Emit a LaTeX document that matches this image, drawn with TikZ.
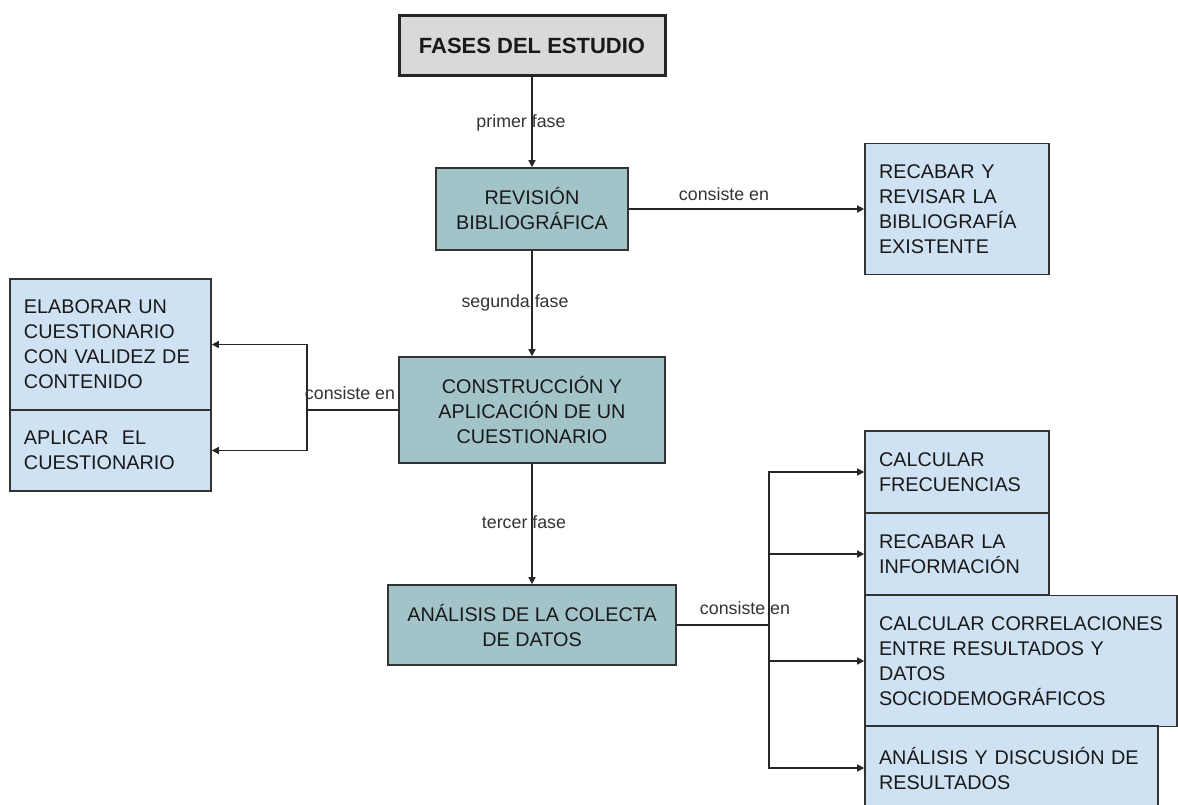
\documentclass[tikz,border=0pt]{standalone}
\usepackage{fontspec}
\setmainfont{Liberation Sans}
\usetikzlibrary{arrows.meta}

\definecolor{titlegray}{HTML}{D9D9D9}
\definecolor{phaseteal}{HTML}{A2C4C9}
\definecolor{taskblue}{HTML}{CFE2F3}
\newcommand{\boxfont}{\fontsize{9.9}{12.5}\selectfont}

\begin{document}
\begin{tikzpicture}[
    x=0.5pt, y=-0.5pt,
    titlebox/.style={draw=black!85, line width=1.5pt, fill=titlegray, font=\fontsize{11}{13}\selectfont\bfseries,
      text=black!90, minimum width=133pt, minimum height=30pt},
    phasebox/.style={draw=black!80, line width=0.8pt, fill=phaseteal, align=center, font=\boxfont, text=black!90},
    taskbox/.style={draw=black!80, line width=0.8pt, fill=taskblue, align=left, font=\boxfont, text=black!90,
      inner xsep=7pt},
    link/.style={draw=black!85, line width=0.7pt},
    arrowlink/.style={link, -{Triangle[length=3.5pt,width=3.5pt]}},
    lbl/.style={font=\fontsize{8.9}{10}\selectfont, text=black!80, inner sep=0pt},
  ]

  % page frame, same proportions as the original sheet
  \useasboundingbox (0,0) rectangle (1178,804);

  % main column: the three phases
  \node[titlebox] (fases) at (532,45.5) {FASES DEL ESTUDIO};
  \node[phasebox, minimum width=96pt, minimum height=41pt] (revision) at (532,209)
    {REVISIÓN\\BIBLIOGRÁFICA};
  \node[phasebox, minimum width=133pt, minimum height=53pt] (construccion) at (532,410)
    {CONSTRUCCIÓN Y\\APLICACIÓN DE UN\\CUESTIONARIO};
  \node[phasebox, minimum width=144pt, minimum height=40pt] (analisis) at (532,625)
    {ANÁLISIS DE LA COLECTA\\DE DATOS};

  % what each phase consists of
  \node[taskbox, text width=78pt, minimum height=65.5pt] (recabar) at (957,209)
    {RECABAR Y\\REVISAR LA\\BIBLIOGRAFÍA\\EXISTENTE};
  \node[taskbox, text width=86.5pt, minimum height=65.5pt] (elaborar) at (110.5,344.5)
    {ELABORAR UN\\CUESTIONARIO\\CON VALIDEZ DE\\CONTENIDO};
  \node[taskbox, text width=86.5pt, minimum height=40.5pt] (aplicar) at (110.5,450.5)
    {APLICAR\ \ EL\\CUESTIONARIO};
  \node[taskbox, text width=78pt, minimum height=41pt] (frecuencias) at (957,472)
    {CALCULAR\\FRECUENCIAS};
  \node[taskbox, text width=78pt, minimum height=41pt] (informacion) at (957,554)
    {RECABAR LA\\INFORMACIÓN};
  \node[taskbox, text width=142pt, minimum height=65.5pt] (correlaciones) at (1021,661)
    {CALCULAR CORRELACIONES\\ENTRE RESULTADOS Y\\DATOS\\SOCIODEMOGRÁFICOS};
  \node[taskbox, text width=132.5pt, minimum height=42pt] (discusion) at (1011.5,768)
    {ANÁLISIS Y DISCUSIÓN DE\\RESULTADOS};

  % connectors
  \coordinate (leftsplit) at (307,410);
  \coordinate (rightsplit) at (769,625);

  \draw[arrowlink] (fases) -- (revision);
  \draw[arrowlink] (revision) -- (recabar);
  \draw[arrowlink] (revision) -- (construccion);
  \draw[arrowlink] (construccion) -- (analisis);

  \draw[link] (construccion) -- (leftsplit);
  \draw[arrowlink] (leftsplit) |- (elaborar);
  \draw[arrowlink] (leftsplit) |- (aplicar);

  \draw[link] (analisis) -- (rightsplit);
  \draw[arrowlink] (rightsplit) |- (frecuencias);
  \draw[arrowlink] (rightsplit) |- (informacion);
  \draw[arrowlink] (rightsplit) |- (correlaciones);
  \draw[arrowlink] (rightsplit) |- (discusion);

  % connector labels
  \node[lbl] (lblprimer) at (521,123) {primer fase};
  \node[lbl] (lblrevision) at (724,194) {consiste en};
  \node[lbl] (lblsegunda) at (515,303) {segunda fase};
  \node[lbl] (lblconstruccion) at (350,393) {consiste en};
  \node[lbl] (lbltercer) at (524,522) {tercer fase};
  \node[lbl] (lblanalisis) at (745,608) {consiste en};
\end{tikzpicture}
\end{document}
